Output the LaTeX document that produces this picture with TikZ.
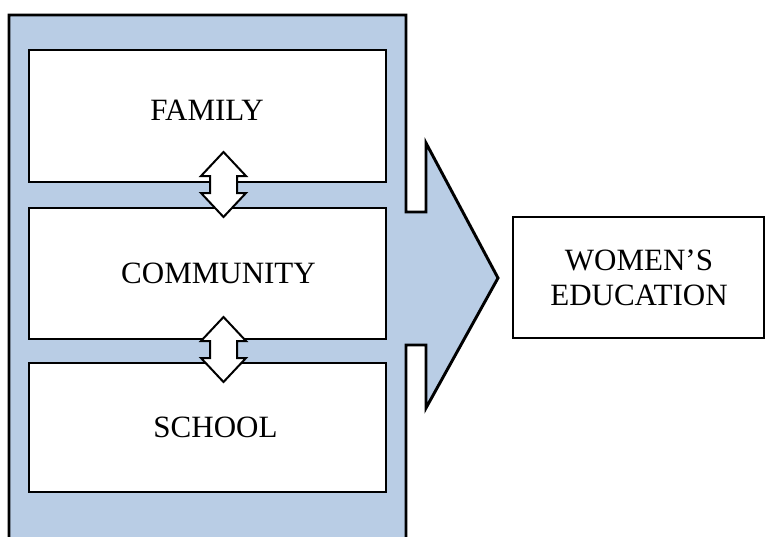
\documentclass[tikz,border=0pt]{standalone}
\usepackage{fontspec}
\setmainfont{Liberation Serif}
\definecolor{panelblue}{RGB}{185,205,229}
\begin{document}
\begin{tikzpicture}[x=0.75pt,y=-0.75pt,
  panel/.style={fill=panelblue,draw=black,line width=2.2pt,line join=miter},
  card/.style={draw=black,fill=white,line width=1.5pt,rectangle,inner sep=0pt},
  goal/.style={draw=black,fill=white,line width=2.2pt,rectangle,inner sep=0pt},
  lbl/.style={font=\fontsize{23.25}{26}\selectfont,anchor=base,inner sep=0pt},
  link/.style={draw=black,fill=white,line width=1.5pt,line join=miter},
  dblarrow/.pic={\path[link] (0,-32.5) -- (22.5,-8.5) -- (13.5,-8.5) -- (13.5,8.5) -- (22.5,8.5) -- (0,32.5) -- (-22.5,8.5) -- (-13.5,8.5) -- (-13.5,-8.5) -- (-22.5,-8.5) -- cycle;}]
\useasboundingbox (0,0) rectangle (766,536);
\clip (0,0) rectangle (766,536);
% blue panel with arrow head
\path[panel] (9,15) -- (406,15) -- (406,212) -- (426,212) -- (426,143) -- (498,278) -- (426,408) -- (426,345) -- (406,345) -- (406,560) -- (9,560) -- cycle;
% inner boxes
\node[card,minimum width=267.75pt,minimum height=99pt] (family) at (207.5,116) {};
\node[card,minimum width=267.75pt,minimum height=98.25pt] (community) at (207.5,273.5) {};
\node[card,minimum width=267.75pt,minimum height=96.75pt] (school) at (207.5,427.5) {};
% double arrows
\coordinate (l1) at (223.5,184.5);
\coordinate (l2) at (223.5,349.5);
\pic at (l1) {dblarrow};
\pic at (l2) {dblarrow};
% labels
\node[lbl] (familytext) at (207,120) {FAMILY};
\node[lbl] (communitytext) at (218.5,283) {COMMUNITY};
\node[lbl] (schooltext) at (215.5,437) {SCHOOL};
% goal box
\node[goal,minimum width=188.25pt,minimum height=90.75pt] (education) at (638.5,277.5) {};
\node[lbl] (goaltext1) at (639,270) {WOMEN’S};
\node[lbl] (goaltext2) at (639,305) {EDUCATION};
\end{tikzpicture}
\end{document}
